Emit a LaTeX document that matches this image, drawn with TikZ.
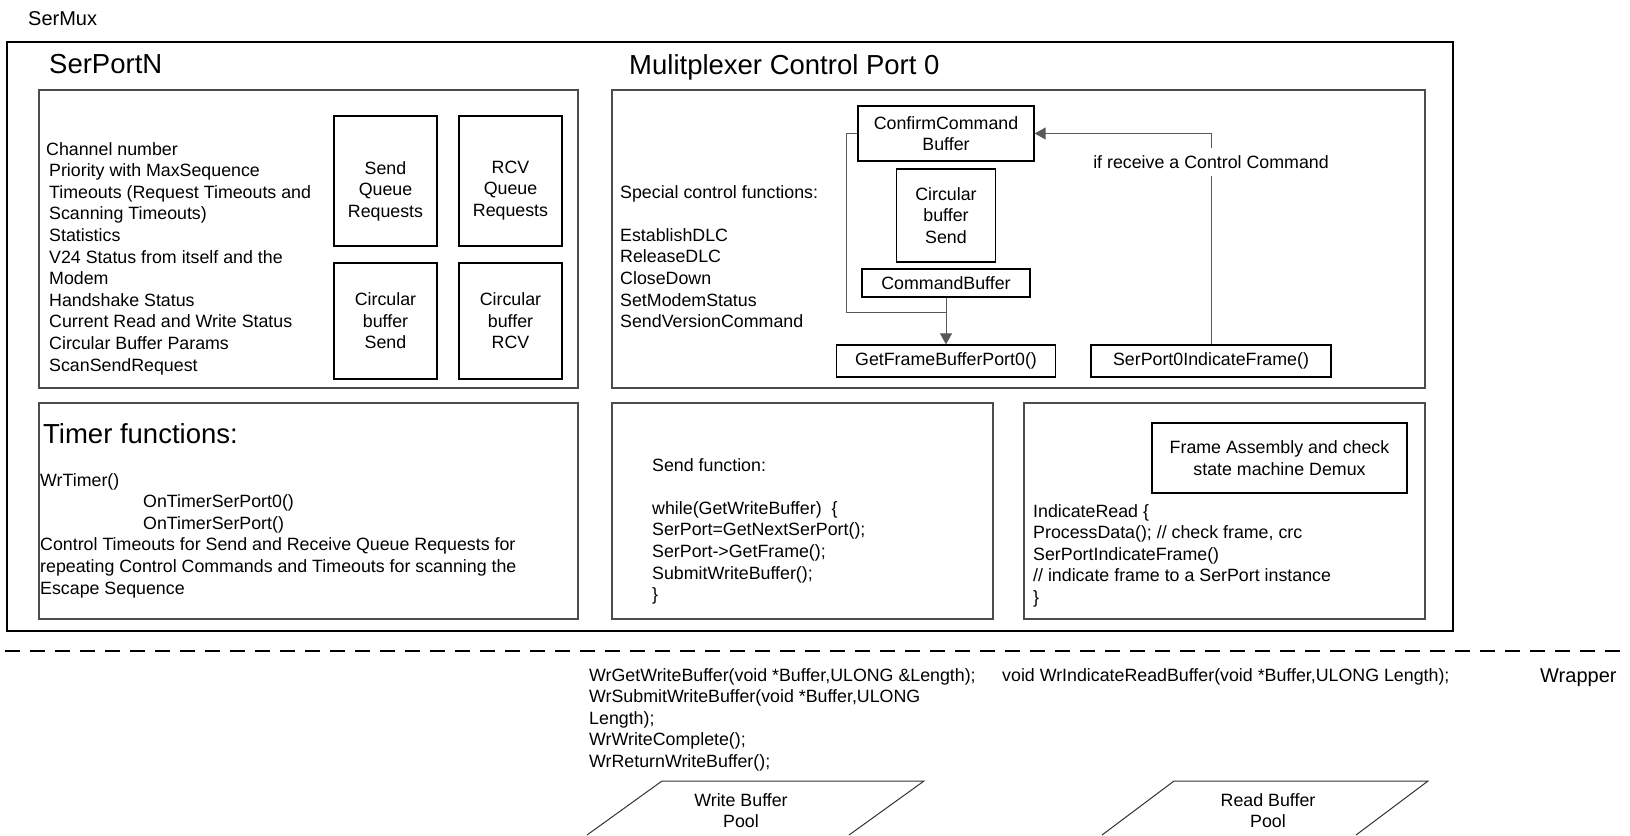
\documentclass[tikz,border=0pt]{standalone}
\usepackage{fontspec}
\setmainfont{Liberation Sans}
\usepackage{tikz}
\usetikzlibrary{arrows.meta}

\newcommand{\bodyfont}{\fontsize{17.8bp}{21.6bp}\selectfont}
\newcommand{\headfont}{\fontsize{27.5bp}{33bp}\selectfont}
\newcommand{\titlefont}{\fontsize{20bp}{24bp}\selectfont}

\tikzset{
  panel/.style={draw=black!70, line width=1.2bp},
  part/.style={draw, line width=1.3bp, align=center, inner sep=0pt},
  conn/.style={draw=black!65, line width=1bp},
  tip/.style={-{Triangle[length=11bp, width=12bp]}},
  txt/.style={anchor=base west, align=left, inner sep=0pt},
  pool/.style={draw=black!80, line width=1bp},
}

\begin{document}
\begin{tikzpicture}[x=1bp, y=-1bp, font=\bodyfont]
            \useasboundingbox (0,0) rectangle (1630,835);
            \node[txt, font=\titlefont] (sermux) at (28,25) {SerMux};
            \draw[line width=1.5bp] (7,42) rectangle (1453,631);
            \node[txt, font=\headfont] (serportn) at (49,73) {SerPortN};
            \node[txt, font=\headfont] (muxtitle) at (629,74) {Mulitplexer Control Port 0};
            \draw[panel] (39,90) rectangle (578,388);
            \draw[panel] (612,90) rectangle (1425,388);
            \draw[panel] (39,403) rectangle (578,619);
            \draw[panel] (612,403) rectangle (993,619);
            \draw[panel] (1024,403) rectangle (1425,619);
            \node[txt] (params) at (49,371) {\hspace*{-3bp}Channel number\\Priority with MaxSequence\\Timeouts (Request Timeouts and\\Scanning Timeouts)\\Statistics\\V24 Status from itself and the\\Modem\\Handshake Status\\Current Read and Write Status\\Circular Buffer Params\\ScanSendRequest};
            \node[part, minimum width=103bp, minimum height=130bp] (sendq) at (385.5,181) {\rule{0pt}{33bp}Send\\Queue\\Requests};
            \node[part, minimum width=103bp, minimum height=130bp] (rcvq) at (510.5,181) {\rule{0pt}{31bp}RCV\\Queue\\Requests};
            \node[part, minimum width=103bp, minimum height=116bp] (sendbuf) at (385.5,321) {Circular\\buffer\\Send};
            \node[part, minimum width=103bp, minimum height=116bp] (rcvbuf) at (510.5,321) {Circular\\buffer\\RCV};
            \node[txt] (ctrlfuncs) at (620,327.6) {Special control functions:\\[21.6bp]EstablishDLC\\ReleaseDLC\\CloseDown\\SetModemStatus\\SendVersionCommand};
            \node[part, minimum width=176bp, minimum height=55bp] (confirm) at (946,133.5) {ConfirmCommand\\Buffer};
            \node[part, minimum width=99bp, minimum height=93bp] (ctrlbuf) at (946,215.5) {Circular\\buffer\\Send};
            \node[part, minimum width=168bp, minimum height=28bp] (cmdbuf) at (946,283) {CommandBuffer};
            \node[part, minimum width=219bp, minimum height=32bp] (getframe) at (946,361) {GetFrameBufferPort0()};
            \node[part, minimum width=240bp, minimum height=32bp] (indicate) at (1211,361) {SerPort0IndicateFrame()};
            \node[inner sep=7bp] (ifcmd) at (1211,162) {if receive a Control Command};
            \coordinate (bend) at (846,312);
            \coordinate (join) at (cmdbuf.south |- bend);
            \draw[conn] (confirm.west) -| (bend) -- (join);
            \draw[conn, tip] (cmdbuf.south) -- (getframe.north);
            \draw[conn] (indicate.north) -- (ifcmd.south);
            \draw[conn, tip] (ifcmd.north) |- (confirm.east);
            \node[txt, font=\headfont] (timertitle) at (43,443) {Timer functions:};
            \node[txt] (timers) at (40,594) {WrTimer()\\\hspace*{103bp}OnTimerSerPort0()\\\hspace*{103bp}OnTimerSerPort()\\Control Timeouts for Send and Receive Queue Requests for\\repeating Control Commands and Timeouts for scanning the\\Escape Sequence};
            \node[txt] (sendfunc) at (652,600.6) {Send function:\\[21.6bp]while(GetWriteBuffer)\ \ \{\\SerPort=GetNextSerPort();\\SerPort->GetFrame();\\SubmitWriteBuffer();\\\}};
            \node[part, minimum width=255bp, minimum height=70bp] (framesm) at (1279.5,458) {Frame Assembly and check\\state machine Demux};
            \node[txt] (indread) at (1033,603.4) {IndicateRead \{\\ProcessData(); // check frame, crc\\SerPortIndicateFrame()\\// indicate frame to a SerPort instance\\\}};
            \draw[line width=1.3bp, dash pattern=on 15bp off 10bp] (5,651) -- (1630,651);
            \node[txt] (wrwrite) at (589,767.4) {WrGetWriteBuffer(void *Buffer,ULONG \&Length);\\WrSubmitWriteBuffer(void *Buffer,ULONG\\Length);\\WrWriteComplete();\\WrReturnWriteBuffer();};
            \node[txt] (wrread) at (1002,681) {void WrIndicateReadBuffer(void *Buffer,ULONG Length);};
            \node[txt, font=\titlefont] (wrapper) at (1540,682) {Wrapper};
            \draw[pool] (587,835) -- (662,781) -- (924,781) -- (849,835);
            \node[align=center, anchor=base, inner sep=0pt] (wpool) at (741,827.6) {Write Buffer\\Pool};
            \draw[pool] (1102,835) -- (1174,781) -- (1428,781) -- (1356,835);
            \node[align=center, anchor=base, inner sep=0pt] (rpool) at (1268,827.6) {Read Buffer\\Pool};
          \end{tikzpicture}
\end{document}
